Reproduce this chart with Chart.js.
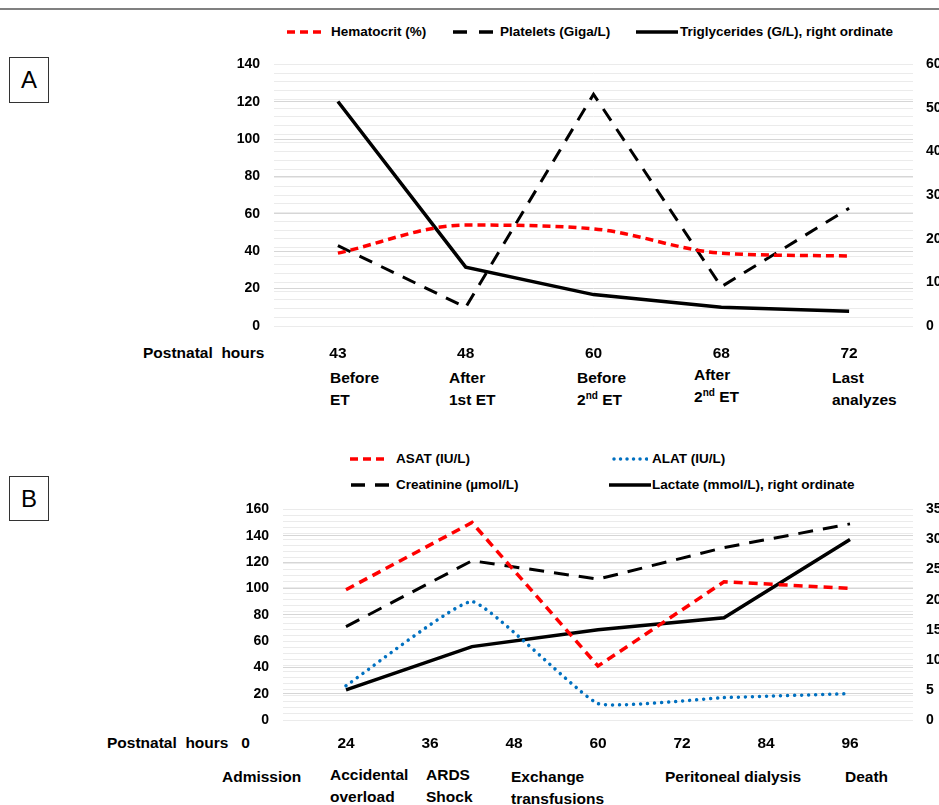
<!DOCTYPE html>
<html>
<head>
<meta charset="utf-8">
<script src="https://cdn.jsdelivr.net/npm/chart.js@4.4.1/dist/chart.umd.min.js"></script>
<style>
html,body{margin:0;padding:0;background:#fff;}
body{width:939px;height:805px;position:relative;overflow:hidden;font-family:"Liberation Sans",Arial,sans-serif;color:#000;}
.abs{position:absolute;white-space:nowrap;}
.lbl{font-weight:bold;font-size:15.5px;line-height:22px;}
.lbl sup{font-size:10px;line-height:0;vertical-align:6px;}
.leg{position:absolute;font-weight:bold;font-size:13.5px;line-height:16px;white-space:nowrap;}
.sw{position:absolute;}
.box{position:absolute;box-sizing:border-box;border:1.5px solid #333;font-size:24px;display:flex;align-items:center;justify-content:center;}
.cv{position:absolute;left:0;}
</style>
</head>
<body>
<div class="abs" style="left:0;top:8px;width:939px;height:2px;background:#808080"></div>

<div class="box" style="left:9px;top:57px;width:40px;height:46px;">A</div>
<div class="box" style="left:9px;top:476px;width:40px;height:45px;">B</div>

<!-- Legend A -->
<svg class="sw" style="left:287px;top:29px" width="36" height="6"><line x1="0" y1="3" x2="36" y2="3" stroke="#ff0000" stroke-width="3.5" stroke-dasharray="8 5"/></svg>
<div class="leg" style="left:331px;top:24px">Hematocrit (%)</div>
<svg class="sw" style="left:453px;top:29px" width="42" height="6"><line x1="0" y1="3" x2="42" y2="3" stroke="#000" stroke-width="3.5" stroke-dasharray="14 12"/></svg>
<div class="leg" style="left:500px;top:24px">Platelets (Giga/L)</div>
<svg class="sw" style="left:636px;top:29px" width="42" height="6"><line x1="0" y1="3" x2="42" y2="3" stroke="#000" stroke-width="3.5"/></svg>
<div class="leg" style="left:680px;top:24px">Triglycerides (G/L), right ordinate</div>

<!-- Legend B -->
<svg class="sw" style="left:350px;top:456px" width="38" height="6"><line x1="0" y1="3" x2="38" y2="3" stroke="#ff0000" stroke-width="3.5" stroke-dasharray="8 5"/></svg>
<div class="leg" style="left:396px;top:451px">ASAT (IU/L)</div>
<svg class="sw" style="left:612px;top:456px" width="36" height="6"><line x1="2" y1="3" x2="36" y2="3" stroke="#0070c0" stroke-width="3.5" stroke-linecap="round" stroke-dasharray="0.01 6.5"/></svg>
<div class="leg" style="left:652px;top:451px">ALAT (IU/L)</div>
<svg class="sw" style="left:351px;top:482px" width="38" height="6"><line x1="0" y1="3" x2="38" y2="3" stroke="#000" stroke-width="3.5" stroke-dasharray="14 10"/></svg>
<div class="leg" style="left:396px;top:477px">Creatinine (µmol/L)</div>
<svg class="sw" style="left:609px;top:482px" width="42" height="6"><line x1="0" y1="3" x2="42" y2="3" stroke="#000" stroke-width="3.5"/></svg>
<div class="leg" style="left:652px;top:477px">Lactate (mmol/L), right ordinate</div>

<!-- Panel A annotation rows -->
<div class="abs lbl" style="left:143px;top:342px">Postnatal&nbsp; hours</div>
<div class="abs lbl" style="left:330px;top:367px">Before<br>ET</div>
<div class="abs lbl" style="left:449px;top:367px">After<br>1st ET</div>
<div class="abs lbl" style="left:577px;top:367px">Before<br>2<sup>nd</sup> ET</div>
<div class="abs lbl" style="left:694px;top:364px">After<br>2<sup>nd</sup> ET</div>
<div class="abs lbl" style="left:832px;top:367px">Last<br>analyzes</div>

<!-- Panel B annotation rows -->
<div class="abs lbl" style="left:107px;top:732px">Postnatal&nbsp; hours&nbsp;&nbsp; 0</div>
<div class="abs lbl" style="left:222px;top:766px">Admission</div>
<div class="abs lbl" style="left:330px;top:764px">Accidental<br>overload</div>
<div class="abs lbl" style="left:426px;top:764px">ARDS<br>Shock</div>
<div class="abs lbl" style="left:511px;top:766px">Exchange<br>transfusions</div>
<div class="abs lbl" style="left:665px;top:766px">Peritoneal dialysis</div>
<div class="abs lbl" style="left:845px;top:766px">Death</div>

<div class="cv" style="top:42px;width:939px;height:378px"><canvas id="cA"></canvas></div>
<div class="cv" style="top:487px;width:939px;height:278px"><canvas id="cB"></canvas></div>

<script>
// ---------- Panel A data ----------
const hoursA = ['43', '48', '60', '68', '72'];
const hematocrit = [39, 54, 52, 39, 37.5];
const platelets = [43, 10, 124, 21, 63];
const triglycerides = [51.5, 13.5, 7.2, 4.3, 3.4];
const leftTicksA = {min: 0, max: 140, step: 20};
const rightTicksA = {min: 0, max: 60, step: 10};

// ---------- Panel B data ----------
const hoursB = [24, 42, 60, 78, 96];
const hourTicksB = [24, 36, 48, 60, 72, 84, 96];
const asat = [99, 150, 41, 105, 100];
const alat = [26, 90, 12.5, 17, 20];
const creatinine = [71, 121, 107, 131, 149];
const lactate = [5, 12.2, 15, 17, 30];
const leftTicksB = {min: 0, max: 160, step: 20};
const rightTicksB = {min: 0, max: 35, step: 5};

const tickFont = {family: '"Liberation Sans", Arial, sans-serif', weight: 'bold', size: 14};
const xFont = {family: '"Liberation Sans", Arial, sans-serif', weight: 'bold', size: 15.5};

function leftAxis(t, width) {
  return {
    position: 'left', min: t.min, max: t.max,
    ticks: {stepSize: t.step, font: tickFont, color: '#000', padding: 14},
    grid: {color: '#d6d6d6', lineWidth: 1, drawTicks: false},
    border: {display: false},
    afterFit: s => { s.width = width; }
  };
}
function rightAxis(t, minor, width) {
  return {
    position: 'right', min: t.min, max: t.max,
    ticks: {stepSize: minor, autoSkip: false, font: tickFont, color: '#000', padding: 13,
      callback: v => (v % t.step === 0 ? v : '')},
    grid: {color: '#ebebeb', lineWidth: 1, drawTicks: false},
    border: {display: false},
    afterFit: s => { s.width = width; }
  };
}

new Chart(document.getElementById('cA'), {
  type: 'line',
  data: {
    labels: hoursA,
    datasets: [
      {label: 'Hematocrit (%)', data: hematocrit, yAxisID: 'y', borderColor: '#ff0000', borderWidth: 3.5,
        borderDash: [8, 5], cubicInterpolationMode: 'monotone', pointRadius: 0, fill: false},
      {label: 'Platelets (Giga/L)', data: platelets, yAxisID: 'y', borderColor: '#000', borderWidth: 3,
        borderDash: [14, 10], tension: 0, pointRadius: 0, fill: false},
      {label: 'Triglycerides (G/L), right ordinate', data: triglycerides, yAxisID: 'y1', borderColor: '#000',
        borderWidth: 3.5, tension: 0, pointRadius: 0, fill: false}
    ]
  },
  options: {
    responsive: true, maintainAspectRatio: false, animation: false,
    layout: {padding: {top: 5, left: 0, right: 0, bottom: 0}},
    plugins: {legend: {display: false}, tooltip: {enabled: false}},
    scales: {
      x: {type: 'category', offset: true,
        ticks: {font: xFont, color: '#000', padding: 18, maxRotation: 0},
        grid: {display: false, drawTicks: false}, border: {display: false},
        afterFit: s => { s.height = 94; }},
      y: leftAxis(leftTicksA, 274),
      y1: rightAxis(rightTicksA, 2, 26)
    }
  }
});

new Chart(document.getElementById('cB'), {
  type: 'line',
  data: {
    datasets: [
      {label: 'ASAT (IU/L)', data: hoursB.map((h, i) => ({x: h, y: asat[i]})), yAxisID: 'y', borderColor: '#ff0000',
        borderWidth: 3.5, borderDash: [9, 6], tension: 0, pointRadius: 0, fill: false},
      {label: 'ALAT (IU/L)', data: hoursB.map((h, i) => ({x: h, y: alat[i]})), yAxisID: 'y', borderColor: '#0070c0',
        borderWidth: 3.5, borderDash: [0.01, 7], borderCapStyle: 'round', tension: 0.12,
        pointRadius: 0, fill: false},
      {label: 'Creatinine (µmol/L)', data: hoursB.map((h, i) => ({x: h, y: creatinine[i]})), yAxisID: 'y',
        borderColor: '#000', borderWidth: 3, borderDash: [15, 10], tension: 0, pointRadius: 0, fill: false},
      {label: 'Lactate (mmol/L), right ordinate', data: hoursB.map((h, i) => ({x: h, y: lactate[i]})), yAxisID: 'y1',
        borderColor: '#000', borderWidth: 3.5, tension: 0, pointRadius: 0, fill: false}
    ]
  },
  options: {
    responsive: true, maintainAspectRatio: false, animation: false,
    layout: {padding: {top: 5, left: 0, right: 0, bottom: 0}},
    plugins: {legend: {display: false}, tooltip: {enabled: false}},
    scales: {
      x: {type: 'linear', min: 15, max: 105,
        afterBuildTicks: s => { s.ticks = hourTicksB.map(v => ({value: v})); },
        ticks: {font: xFont, color: '#000', padding: 14, maxRotation: 0, autoSkip: false},
        grid: {display: false, drawTicks: false}, border: {display: false},
        afterFit: s => { s.height = 45; }},
      y: leftAxis(leftTicksB, 283),
      y1: rightAxis(rightTicksB, 1, 26)
    }
  }
});
</script>
</body>
</html>
